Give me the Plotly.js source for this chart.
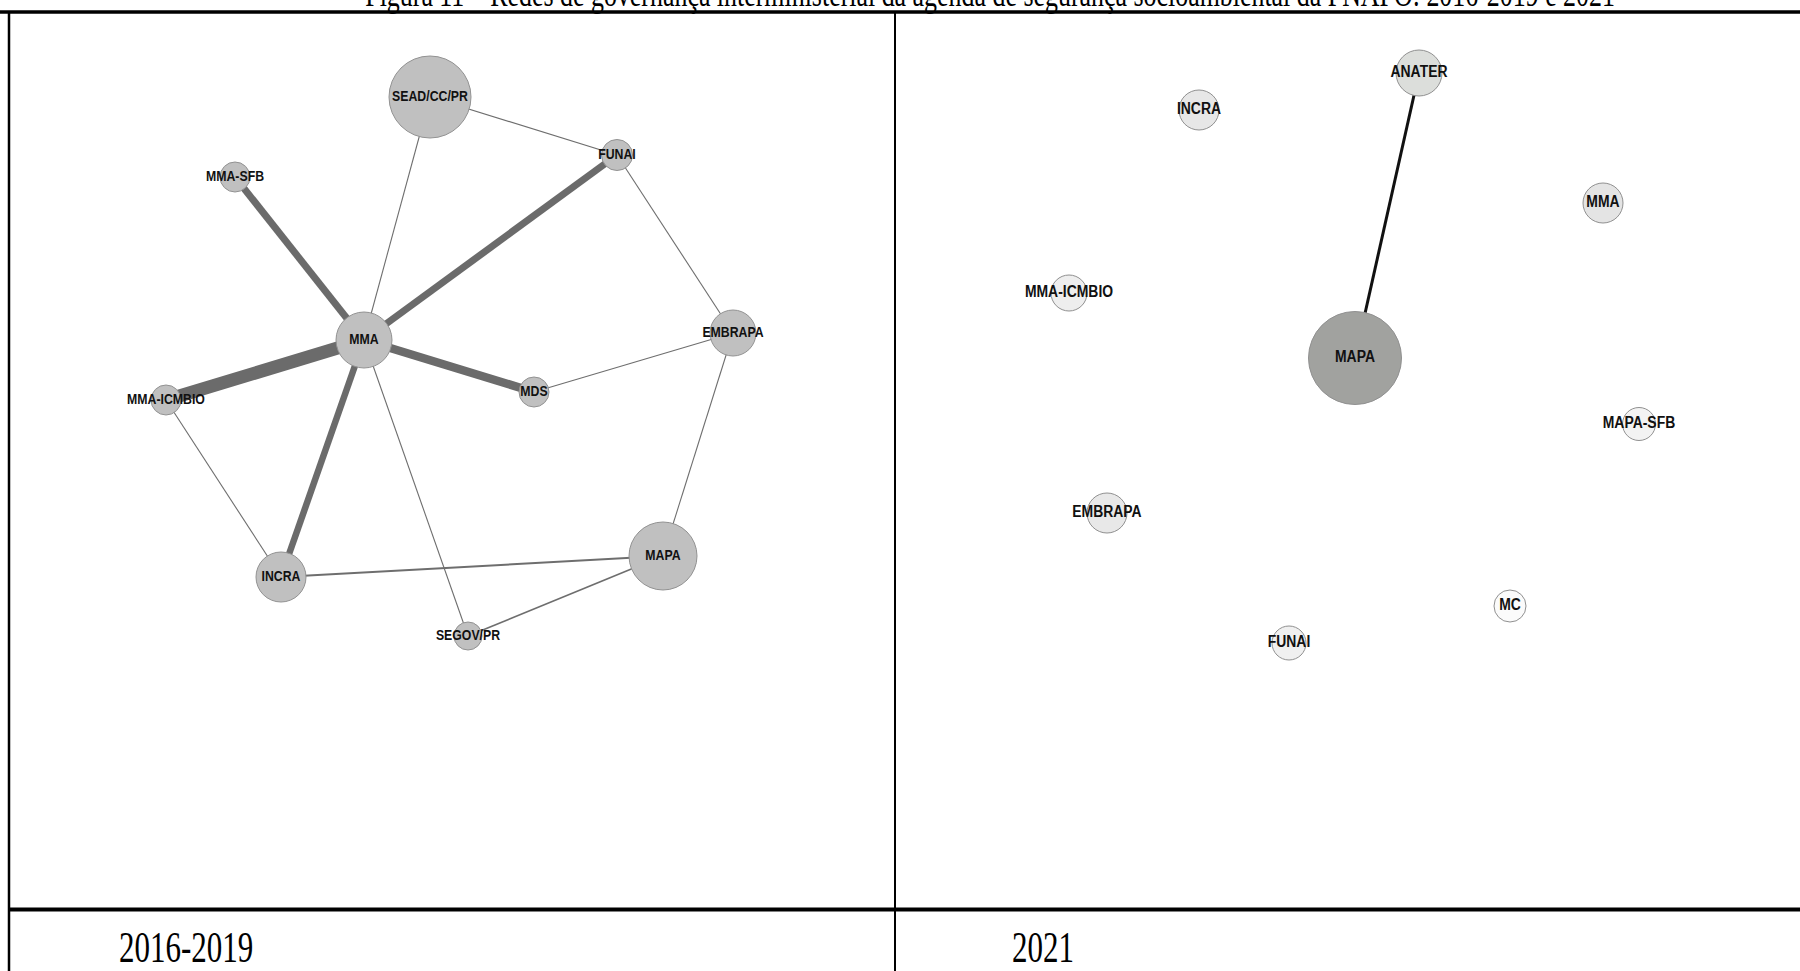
<!DOCTYPE html>
<html>
<head>
<meta charset="utf-8">
<script src="https://cdn.plot.ly/plotly-3.0.1.min.js"></script>
<style>
html,body{margin:0;padding:0;background:#fff;}
#chart{width:1800px;height:971px;}
</style>
</head>
<body>
<div id="chart"></div>
<script>
// ---------- DATA ----------
// Network 2016-2019 (layout coordinates, px of the 1800x971 frame)
const nodes1619 = ['SEAD/CC/PR','FUNAI','MMA-SFB','MMA','EMBRAPA','MDS','MMA-ICMBIO','INCRA','MAPA','SEGOV/PR'];
const x1619 = [430, 617, 235, 364, 733, 534, 166, 281, 663, 468];
const y1619 = [97, 155, 177, 340, 333, 392, 400, 577, 556, 636];
const radius1619 = [41, 15.5, 15, 28, 23, 15, 15, 25, 34, 14];
const edgeFrom1619 = ['SEAD/CC/PR','SEAD/CC/PR','FUNAI','FUNAI','MMA-SFB','MMA','MMA','MMA','MMA','MDS','EMBRAPA','MMA-ICMBIO','INCRA','SEGOV/PR'];
const edgeTo1619   = ['FUNAI','MMA','MMA','EMBRAPA','MMA','MMA-ICMBIO','MDS','INCRA','SEGOV/PR','EMBRAPA','MAPA','INCRA','MAPA','MAPA'];
const edgeWeight1619 = [1.3, 1.1, 7, 1.1, 7, 13, 8.5, 6.5, 1.1, 1.1, 1.1, 1.1, 2, 1.6];

// Network 2021
const nodes2021 = ['ANATER','INCRA','MMA','MMA-ICMBIO','MAPA','MAPA-SFB','EMBRAPA','MC','FUNAI'];
const x2021 = [1419, 1199, 1603, 1069, 1355, 1639, 1107, 1510, 1289];
const y2021 = [73, 110, 203, 293, 358, 424, 513, 606, 643];
const radius2021 = [23, 20, 20, 18, 46.5, 16.5, 20, 16, 17];
const fill2021 = ['#dcdedb','#e7e7e7','#e4e4e4','#eeeeee','#a1a29f','#f3f3f3','#e8e8e8','#fbfbfb','#f0f0f0'];
const edgeFrom2021 = ['ANATER'];
const edgeTo2021 = ['MAPA'];
const edgeWeight2021 = [3];

const titleText = 'Figura 11 – Redes de governança interministerial da agenda de segurança socioambiental da PNAPO: 2016-2019 e 2021';
const periodLabels = ['2016-2019', '2021'];

// ---------- BUILD ----------
const W = 1800, H = 971;
const LABEL_FONT = '"Liberation Sans", Arial, sans-serif';
const SERIF = '"Liberation Serif", "Times New Roman", serif';
const traces = [];

function addEdges(names, xs, ys, from, to, w, color, xa, ya) {
  for (let i = 0; i < from.length; i++) {
    const a = names.indexOf(from[i]), b = names.indexOf(to[i]);
    traces.push({
      type: 'scatter', mode: 'lines', xaxis: xa, yaxis: ya,
      x: [xs[a], xs[b]], y: [ys[a], ys[b]],
      line: {color: color(w[i]), width: w[i]},
      hoverinfo: 'skip', showlegend: false
    });
  }
}
addEdges(nodes1619, x1619, y1619, edgeFrom1619, edgeTo1619, edgeWeight1619,
  w => (w > 3 ? '#6b6b6b' : '#6e6e6e'), 'x', 'y');
addEdges(nodes2021, x2021, y2021, edgeFrom2021, edgeTo2021, edgeWeight2021,
  w => '#111111', 'x2', 'y2');

traces.push({
  type: 'scatter', mode: 'markers+text', xaxis: 'x', yaxis: 'y',
  x: x1619, y: y1619, text: nodes1619, textposition: 'middle center',
  textfont: {family: LABEL_FONT, size: 15, color: '#111', weight: 'bold'},
  marker: {size: radius1619.map(r => 2 * r), sizemode: 'diameter', opacity: 1, color: '#c0c0c0', line: {color: '#929292', width: 1}},
  hoverinfo: 'text', showlegend: false, cliponaxis: false
});
traces.push({
  type: 'scatter', mode: 'markers+text', xaxis: 'x2', yaxis: 'y2',
  x: x2021, y: y2021, text: nodes2021, textposition: 'middle center',
  textfont: {family: LABEL_FONT, size: 17, color: '#111', weight: 'bold'},
  marker: {size: radius2021.map(r => 2 * r), sizemode: 'diameter', opacity: 1, color: fill2021, line: {color: '#909090', width: 1}},
  hoverinfo: 'text', showlegend: false, cliponaxis: false
});

const ax = (dom, rng) => ({domain: dom, range: rng, visible: false, fixedrange: true});
const px = v => v / W, py = v => 1 - v / H;
const line = (x0, y0, x1, y1, w) => ({type: 'line', xref: 'paper', yref: 'paper',
  x0: px(x0), y0: py(y0), x1: px(x1), y1: py(y1), line: {color: '#000', width: w}});

const layout = {
  width: W, height: H, margin: {l: 0, r: 0, t: 0, b: 0},
  paper_bgcolor: '#fff', plot_bgcolor: 'rgba(0,0,0,0)',
  showlegend: false,
  xaxis: ax([0, 0.5], [0, 900]), yaxis: ax([0, 1], [H, 0]),
  xaxis2: ax([0.5, 1], [900, 1800]), yaxis2: ax([0, 1], [H, 0]),
  shapes: [
    line(0, 12, 1800, 12, 3.5),
    line(9, 12, 9, 971, 2.5),
    line(895, 12, 895, 971, 2),
    line(9, 909.5, 1800, 909.5, 4)
  ],
  annotations: [
    {xref: 'paper', yref: 'paper', x: px(990), y: py(16.5), xanchor: 'center', yanchor: 'bottom',
     text: titleText, showarrow: false, font: {family: SERIF, size: 36, color: '#000'}},
    {xref: 'paper', yref: 'paper', x: px(117), y: py(973.5), xanchor: 'left', yanchor: 'bottom',
     text: periodLabels[0], showarrow: false, font: {family: SERIF, size: 44, color: '#000'}},
    {xref: 'paper', yref: 'paper', x: px(1010), y: py(973.5), xanchor: 'left', yanchor: 'bottom',
     text: periodLabels[1], showarrow: false, font: {family: SERIF, size: 44, color: '#000'}}
  ]
};

// Condense text horizontally (the reference uses narrow typefaces)
function condense(el, s, anchor) {
  const b = el.getBBox();
  const a = anchor === 'left' ? b.x : b.x + b.width / 2;
  el.setAttribute('transform', 'translate(' + (a * (1 - s)) + ',0) scale(' + s + ',1)');
}

Plotly.newPlot('chart', traces, layout, {displayModeBar: false, staticPlot: true}).then(gd => {
  gd.querySelectorAll('.textpoint text').forEach(t => condense(t, 0.82, 'center'));
  const ann = gd.querySelectorAll('.annotation-text');
  if (ann[0]) condense(ann[0], 0.72, 'center');
  if (ann[1]) condense(ann[1], 0.705, 'left');
  if (ann[2]) condense(ann[2], 0.705, 'left');
});
</script>
</body>
</html>
